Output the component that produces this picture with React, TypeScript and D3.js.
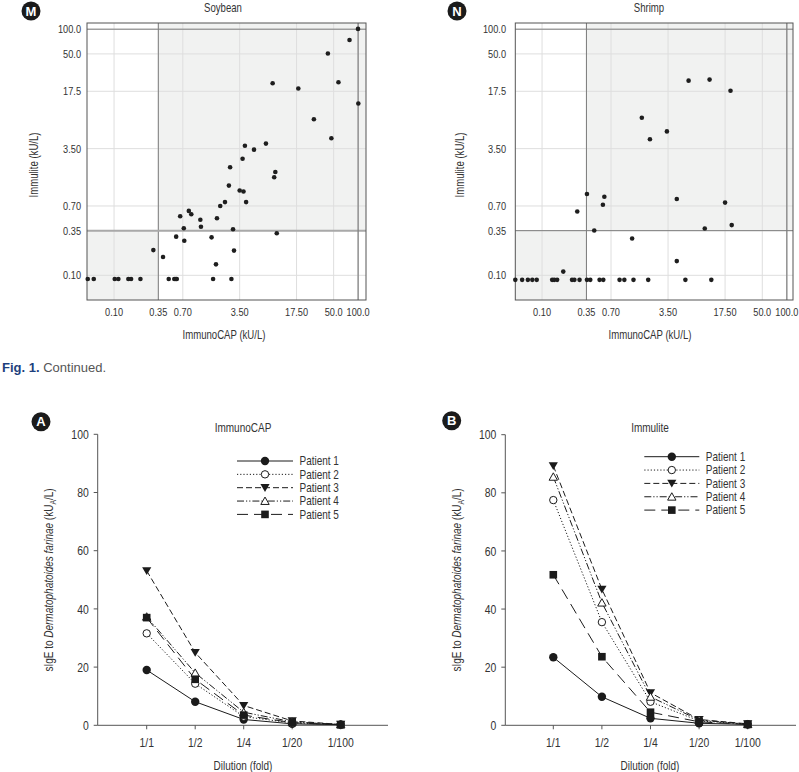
import React from 'react';
import * as d3 from 'd3';

const W = 799;
const H = 772;
const SANS = "'Liberation Sans',Arial,Helvetica,sans-serif";
const SX = 0.8; // horizontal condensing of the label font

// ---------- scatter data ----------
const scatterTicks = [0.1, 0.35, 0.7, 3.5, 17.5, 50, 100];
const xTickLabels = ['0.10', '0.35', '0.70', '3.50', '17.50', '50.0', '100.0'];
const yTickLabels = ['0.10', '0.35', '0.70', '3.50', '17.5', '50.0', '100.0'];

const soyCAP = [0.0475, 0.0563, 0.102, 0.113, 0.15, 0.162, 0.211, 0.304, 0.4, 0.47, 0.55, 0.574, 0.59, 0.58, 0.73, 0.72, 0.65, 0.83, 0.89, 1.15, 1.17, 1.58, 1.65, 1.79, 1.84, 2.02, 2.31, 2.58, 2.67, 2.77, 2.9, 2.98, 3.5, 3.9, 4.2, 3.8, 4.06, 5.25, 7.36, 8.9, 9.3, 9.6, 10.0, 18.4, 28.6, 42.5, 46.9, 57.3, 78.4, 99.7, 100.6];
const soyImm = [0.09, 0.09, 0.09, 0.09, 0.09, 0.09, 0.09, 0.203, 0.167, 0.09, 0.09, 0.09, 0.09, 0.296, 0.264, 0.374, 0.524, 0.61, 0.555, 0.476, 0.39, 0.29, 0.09, 0.136, 0.496, 0.7, 0.78, 1.24, 2.08, 0.09, 0.364, 0.2, 1.08, 1.05, 0.78, 2.64, 3.79, 3.4, 4.03, 21.9, 1.57, 1.82, 0.325, 18.9, 7.99, 50.6, 4.68, 22.6, 73.7, 100.8, 12.4];

const shrimpCAP = [0.047, 0.057, 0.067, 0.076, 0.086, 0.133, 0.141, 0.153, 0.233, 0.249, 0.288, 0.355, 0.39, 0.507, 0.563, 0.891, 1.02, 1.32, 2.0, 5.71, 11.87, 0.182, 0.27, 0.355, 0.436, 0.557, 0.58, 1.27, 1.67, 2.1, 3.39, 4.48, 4.48, 6.25, 9.87, 11.3, 17.5, 20.4, 21.1];
const shrimpImm = [0.088, 0.088, 0.088, 0.088, 0.088, 0.088, 0.088, 0.088, 0.088, 0.088, 0.088, 0.088, 0.088, 0.088, 0.088, 0.088, 0.088, 0.088, 0.088, 0.088, 0.088, 0.111, 0.6, 0.98, 0.352, 0.724, 0.906, 0.281, 8.33, 4.55, 5.68, 0.851, 0.149, 23.6, 0.372, 24.3, 0.77, 17.8, 0.409];

// ---------- dilution data ----------
const dilutions = ['1/1', '1/2', '1/4', '1/20', '1/100'];
const patients = ['Patient 1', 'Patient 2', 'Patient 3', 'Patient 4', 'Patient 5'];
const yTicksDil = [0, 20, 40, 60, 80, 100];

const capP1 = [19.0, 8.1, 2.0, 0.5, 0.2];
const capP2 = [31.6, 14.3, 3.0, 0.8, 0.3];
const capP3 = [53.1, 25.0, 6.8, 1.5, 0.3];
const capP4 = [37.3, 18.0, 4.5, 1.2, 0.3];
const capP5 = [37.0, 15.8, 3.5, 0.9, 0.2];

const immP1 = [23.4, 9.8, 2.4, 0.7, 0.3];
const immP2 = [77.5, 35.5, 8.1, 1.5, 0.4];
const immP3 = [89.3, 46.8, 11.2, 2.0, 0.5];
const immP4 = [85.5, 42.2, 9.8, 1.8, 0.4];
const immP5 = [51.8, 23.6, 4.5, 1.2, 0.3];

const dashes = ['none', '1.2,2', '6,3', '7,2,1.2,2,1.2,2', '11,6'];
const markers = ['dot', 'ring', 'tridown', 'triup', 'square'];

type TProps = {
  x: number; y: number; size: number; anchor?: string; rot?: boolean;
  fill?: string; children: React.ReactNode;
};
function T({ x, y, size, anchor = 'start', rot = false, fill = '#333', children }: TProps) {
  const tr = `translate(${x},${y})${rot ? ' rotate(-90)' : ''} scale(${SX},1)`;
  return (
    <text transform={tr} textAnchor={anchor} fontFamily={SANS} fontSize={size} fill={fill}>
      {children}
    </text>
  );
}

function Badge({ cx, cy, letter }: { cx: number; cy: number; letter: string }) {
  return (
    <g>
      <circle cx={cx} cy={cy} r={9.5} fill="#1b1b1b" />
      <text x={cx} y={cy + 4.6} textAnchor="middle" fill="#fff" fontFamily={SANS} fontWeight="bold" fontSize={13}>
        {letter}
      </text>
    </g>
  );
}

function Marker({ kind, x, y }: { kind: string; x: number; y: number }) {
  const c = '#1b1b1b';
  if (kind === 'dot') return <circle cx={x} cy={y} r={4.2} fill={c} />;
  if (kind === 'ring') return <circle cx={x} cy={y} r={3.7} fill="#fff" stroke={c} strokeWidth={1} />;
  if (kind === 'tridown')
    return <path d={`M${x - 4.6},${y - 3.6}L${x + 4.6},${y - 3.6}L${x},${y + 4.2}Z`} fill={c} />;
  if (kind === 'triup')
    return <path d={`M${x - 4.2},${y + 3.4}L${x + 4.2},${y + 3.4}L${x},${y - 4}Z`} fill="#fff" stroke={c} strokeWidth={1} />;
  return <rect x={x - 3.8} y={y - 3.8} width={7.6} height={7.6} fill={c} />;
}

type ScatterProps = {
  left: number; right: number; top: number; bottom: number;
  xDom: [number, number]; yDom: [number, number];
  cap: number[]; imm: number[];
  title: string; titleX: number; yTitleX: number; xTitleX: number;
  yLabelRight: number; letter: string; badgeX: number; hLineLight: boolean;
};

function Scatter(p: ScatterProps) {
  const x = d3.scaleLog().domain(p.xDom).range([p.left, p.right]);
  const y = d3.scaleLog().domain(p.yDom).range([p.bottom, p.top]);
  const shade = '#f1f2f1';
  const mid = '#7d7d7d';
  return (
    <g>
      <rect x={x(0.35)} y={p.top} width={p.right - x(0.35)} height={y(0.35) - p.top} fill={shade} />
      <rect x={p.left} y={y(0.35)} width={x(0.35) - p.left} height={p.bottom - y(0.35)} fill={shade} />
      {scatterTicks.map((v, i) => (
        <g key={'g' + i}>
          <line x1={x(v)} x2={x(v)} y1={p.top} y2={p.bottom} stroke="#dedede" strokeWidth={1} />
          <line x1={p.left} x2={p.right} y1={y(v)} y2={y(v)} stroke="#dedede" strokeWidth={1} />
        </g>
      ))}
      <line x1={x(0.35)} x2={x(0.35)} y1={p.top} y2={p.bottom} stroke={mid} strokeWidth={1} />
      <line x1={p.left} x2={p.right} y1={y(0.35)} y2={y(0.35)} stroke={p.hLineLight ? '#a9a9a9' : mid} strokeWidth={p.hLineLight ? 2 : 1} />
      <line x1={x(100)} x2={x(100)} y1={p.top} y2={p.bottom} stroke={mid} strokeWidth={1.2} />
      <line x1={p.left} x2={p.right} y1={y(100)} y2={y(100)} stroke={mid} strokeWidth={1} />
      <rect x={p.left} y={p.top} width={p.right - p.left} height={p.bottom - p.top} fill="none" stroke="#555" strokeWidth={1} />
      {p.cap.map((v, i) => (
        <circle key={'d' + i} cx={x(v)} cy={y(p.imm[i])} r={2.3} fill="#1e1e1e" />
      ))}
      {scatterTicks.map((v, i) => (
        <T key={'xt' + i} x={x(v)} y={316} size={11.5} anchor="middle">{xTickLabels[i]}</T>
      ))}
      {scatterTicks.map((v, i) => (
        <T key={'yt' + i} x={p.yLabelRight} y={y(v) + 4} size={11.5} anchor="end">{yTickLabels[i]}</T>
      ))}
      <T x={p.titleX} y={12} size={12} anchor="middle">{p.title}</T>
      <T x={p.xTitleX} y={339} size={12} anchor="middle">ImmunoCAP (kU/L)</T>
      <T x={p.yTitleX} y={165} size={12} anchor="middle" rot>Immulite (kU/L)</T>
      <Badge cx={p.badgeX} cy={11} letter={p.letter} />
    </g>
  );
}

type DilProps = {
  axisX: number; axisEnd: number; xFirst: number; xLast: number;
  yTop: number; yBottom: number; series: number[][]; title: string;
  centerX: number; yTitleX: number; letter: string; badge: [number, number];
  legX1: number; legX2: number; legY: number;
};

function Dilution(p: DilProps) {
  const x = d3.scalePoint<string>().domain(dilutions).range([p.xFirst, p.xLast]);
  const y = d3.scaleLinear().domain([0, 100]).range([p.yBottom, p.yTop]);
  const line = d3.line<number>().x((_, i) => x(dilutions[i]) as number).y((d) => y(d));
  const legMid = (p.legX1 + p.legX2) / 2;
  const col = '#1b1b1b';
  return (
    <g>
      <line x1={p.axisX} x2={p.axisX} y1={p.yTop} y2={p.yBottom} stroke="#555" strokeWidth={1} />
      <line x1={p.axisX} x2={p.axisEnd} y1={p.yBottom} y2={p.yBottom} stroke="#555" strokeWidth={1} />
      {yTicksDil.map((v) => (
        <g key={'yt' + v}>
          <line x1={p.axisX - 4} x2={p.axisX} y1={y(v)} y2={y(v)} stroke="#555" />
          <T x={p.axisX - 9} y={y(v) + 4.6} size={13} anchor="end">{v}</T>
        </g>
      ))}
      {dilutions.map((d) => (
        <g key={'xt' + d}>
          <line x1={x(d)} x2={x(d)} y1={p.yBottom} y2={p.yBottom + 4} stroke="#555" />
          <T x={x(d) as number} y={746.5} size={13} anchor="middle">{d}</T>
        </g>
      ))}
      {p.series.map((s, k) => (
        <path key={'l' + k} d={line(s) || ''} fill="none" stroke={col} strokeWidth={1} strokeDasharray={dashes[k]} />
      ))}
      {p.series.map((s, k) =>
        s.map((v, i) => <Marker key={'m' + k + '-' + i} kind={markers[k]} x={x(dilutions[i]) as number} y={y(v)} />)
      )}
      {patients.map((name, k) => {
        const ly = p.legY + k * 13.35;
        return (
          <g key={'lg' + k}>
            <line x1={p.legX1} x2={p.legX2} y1={ly} y2={ly} stroke={col} strokeWidth={1} strokeDasharray={dashes[k]} />
            <Marker kind={markers[k]} x={legMid} y={ly} />
            <T x={p.legX2 + 6.5} y={ly + 4.3} size={12.5}>{name}</T>
          </g>
        );
      })}
      <T x={p.centerX} y={431.5} size={12.5} anchor="middle">{p.title}</T>
      <T x={p.centerX} y={769.5} size={12.5} anchor="middle">Dilution (fold)</T>
      <T x={p.yTitleX} y={580} size={12.5} anchor="middle" rot>
        sIgE to <tspan fontStyle="italic">Dermatophatoides farinae</tspan> (kU<tspan fontSize={8.5} dy={3}>A</tspan><tspan dy={-3}>/L)</tspan>
      </T>
      <Badge cx={p.badge[0]} cy={p.badge[1]} letter={p.letter} />
    </g>
  );
}

export default function App() {
  return (
    <svg width={W} height={H} viewBox={`0 0 ${W} ${H}`} style={{ position: 'absolute', left: 0, top: 0, background: '#fff' }}>
      <rect x={0} y={0} width={W} height={H} fill="#fff" />
      <Scatter
        left={87} right={366} top={23} bottom={300}
        xDom={[0.0465, 125]} yDom={[0.05, 119]}
        cap={soyCAP} imm={soyImm}
        title="Soybean" titleX={223} yTitleX={38} xTitleX={224}
        yLabelRight={81} letter="M" badgeX={31} hLineLight={true}
      />
      <Scatter
        left={515.3} right={793} top={23} bottom={300}
        xDom={[0.047, 119]} yDom={[0.05, 119]}
        cap={shrimpCAP} imm={shrimpImm}
        title="Shrimp" titleX={649} yTitleX={464} xTitleX={650}
        yLabelRight={506} letter="N" badgeX={457} hLineLight={false}
      />
      <text x={2} y={372} fontFamily={SANS} fontSize={13}>
        <tspan fill="#1d3f7d" fontWeight="bold">Fig. 1.</tspan>
        <tspan fill="#555"> Continued.</tspan>
      </text>
      <Dilution
        axisX={97.7} axisEnd={388} xFirst={146.7} xLast={340.7}
        yTop={434.3} yBottom={725.3}
        series={[capP1, capP2, capP3, capP4, capP5]}
        title="ImmunoCAP" centerX={243} yTitleX={53} letter="A" badge={[41, 421.7]}
        legX1={237} legX2={293} legY={461}
      />
      <Dilution
        axisX={505.3} axisEnd={796} xFirst={553.3} xLast={747.7}
        yTop={434.7} yBottom={725.3}
        series={[immP1, immP2, immP3, immP4, immP5]}
        title="Immulite" centerX={650} yTitleX={461} letter="B" badge={[451.7, 420.7]}
        legX1={644.3} legX2={699.3} legY={456.7}
      />
    </svg>
  );
}
